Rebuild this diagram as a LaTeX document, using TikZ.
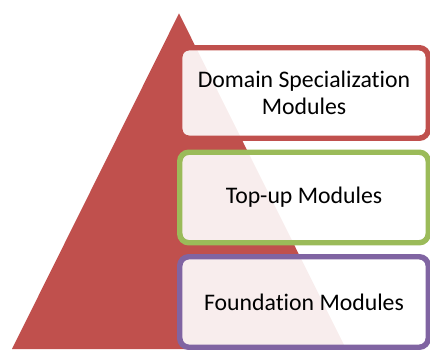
\documentclass[tikz,border=0pt]{standalone}
\usepackage{fontspec}
\setmainfont{Carlito}[Ligatures=NoCommon]
\definecolor{pyred}{HTML}{C0504D}
\definecolor{pygreen}{HTML}{9BBB59}
\definecolor{pypurple}{HTML}{8064A2}
\tikzset{module/.style={draw,line width=3.9pt,rounded corners=0.225cm,fill=white,fill opacity=0.9,text opacity=1,text=black,minimum width=6.2125cm,minimum height=2.2625cm,align=center,font=\fontsize{16.9}{19.2}\selectfont}}

\begin{document}
\begin{tikzpicture}
        \useasboundingbox (0,0) rectangle (10.75,8.725);
        \fill[pyred] (0.3,0) -- (4.475,8.39) -- (8.65,0) -- cycle;
        \node[module,draw=pyred] (domain) at (7.6,6.4) {Domain Specialization\\Modules};
        \node[module,draw=pygreen] (topup) at (7.6,3.7875) {Top-up Modules};
        \node[module,draw=pypurple] (found) at (7.6,1.175) {Foundation Modules};
    \end{tikzpicture}
\end{document}
